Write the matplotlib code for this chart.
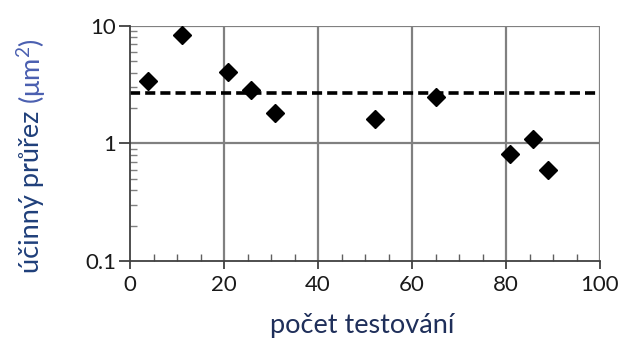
import matplotlib
matplotlib.use("Agg")
import matplotlib.pyplot as plt
from matplotlib.ticker import FixedLocator, LogLocator, NullFormatter, MultipleLocator

x_vals = [3.8, 11.0, 20.9, 25.8, 30.9, 52.1, 65.0, 80.9, 85.7, 89.0]
y_vals = [3.39, 8.3, 4.06, 2.84, 1.80, 1.62, 2.49, 0.81, 1.10, 0.59]
mean_level = 2.69
x_ticks = [0, 20, 40, 60, 80, 100]
y_ticks = [0.1, 1, 10]
y_ticklabels = ["0.1", "1", "10"]
xlabel = "počet testování"
ylabel_main = "účinný průřez "
ylabel_unit = "(μm$^2$)"

plt.rcParams['font.family'] = ['Lato', 'DejaVu Sans']
plt.rcParams['mathtext.fontset'] = 'custom'
plt.rcParams['mathtext.rm'] = 'Lato'

fig = plt.figure(figsize=(6.25, 3.42), dpi=100)
ax = fig.add_axes([0.208, 0.237, 0.752, 0.687])

ax.set_yscale('log')
ax.set_xlim(0, 100)
ax.set_ylim(0.1, 10)

# grid lines
for xv in x_ticks[1:]:
    ax.axvline(xv, color='#808080', lw=1.6, zorder=1)
for yv in y_ticks[1:]:
    ax.axhline(yv, color='#808080', lw=1.6, zorder=1)

ax.axhline(mean_level, xmin=0.0, xmax=1.0, color='black', lw=2.6,
           dashes=(2.8, 1.4), zorder=2)

ax.plot(x_vals, y_vals, linestyle='none', marker='D', ms=9.5,
        color='black', zorder=3, clip_on=False)

for s in ['top', 'right']:
    ax.spines[s].set_visible(False)
for s in ['left', 'bottom']:
    ax.spines[s].set_color('#404040')
    ax.spines[s].set_linewidth(1.3)

ax.set_xticks(x_ticks)
ax.set_xticklabels([str(v) for v in x_ticks])
ax.xaxis.set_minor_locator(MultipleLocator(5))
ax.yaxis.set_major_locator(FixedLocator(y_ticks))
ax.set_yticklabels(y_ticklabels)
ax.yaxis.set_minor_locator(LogLocator(base=10, subs=range(2, 10)))
ax.yaxis.set_minor_formatter(NullFormatter())

ax.tick_params(axis='x', which='major', direction='out', length=6, width=1.3,
               color='#404040', labelsize=16, pad=4, labelcolor='#1a1a1a')
ax.tick_params(axis='x', which='minor', direction='in', length=5, width=1.0,
               color='#606060')
ax.tick_params(axis='y', which='major', direction='out', length=8, width=1.3,
               color='#404040', labelsize=16, pad=2, labelcolor='#1a1a1a')
ax.tick_params(axis='y', which='minor', direction='in', length=5, width=1.0,
               color='#808080')

fig.text(0.5 * (0.208 + 0.96) - 0.005, 1 - 325 / 342, xlabel, ha='center', va='center',
         fontsize=19.5, color='#1f2f5a')

# y label in two colors
t1 = fig.text(0.05, 1 - 273 / 342, ylabel_main, rotation=90, ha='center', va='bottom',
              fontsize=19.5, color='#1f3f7a')
fig.canvas.draw()
bb = t1.get_window_extent()
inv = fig.transFigure.inverted()
top_y = inv.transform((0, bb.y1))[1]
fig.text(0.05, top_y, ylabel_unit, rotation=90, ha='center', va='bottom',
         fontsize=19.5, color='#4a5fb0')

fig.savefig('out.png', dpi=100)
